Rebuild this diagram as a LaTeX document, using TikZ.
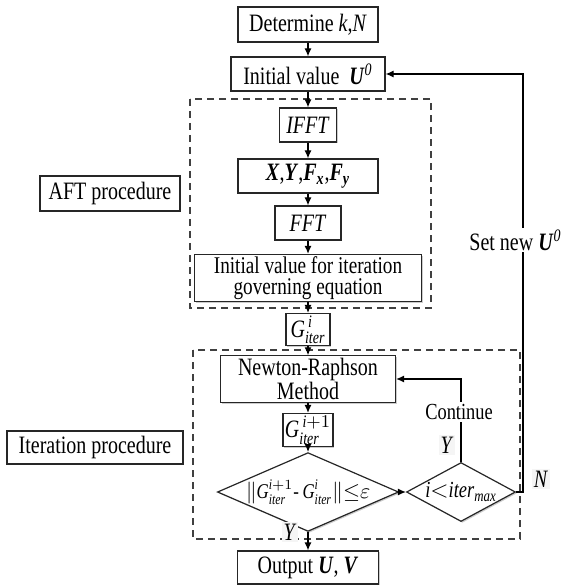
\documentclass[tikz,border=0pt]{standalone}
\usepackage{amssymb}
\usepackage{amsmath}
\usepackage{fontspec}
\setmainfont{Liberation Serif}[FakeStretch=0.8]
\usepackage{tikz}
\usetikzlibrary{shapes.geometric}
\usetikzlibrary{shadows}
\usetikzlibrary{arrows.meta}

\newcommand{\bfit}[1]{\textbf{\textit{#1}}}

\begin{document}
\begin{tikzpicture}[x=0.5pt, y=-0.5pt,
   font=\fontsize{12.5}{13}\selectfont,
   box/.style={
      draw = black!85,
      fill = white,
      line width = .6pt,
      align = center,
      inner sep = 1pt,
      drop shadow = {shadow xshift=.7pt, shadow yshift=-.7pt, fill=black!40}
   },
   decide/.style={box, diamond, inner sep=0pt},
   group/.style={draw = black!75, line width = .8pt, dash pattern = on 3.5pt off 2.5pt},
   flow/.style={draw, line width = .6pt, -{Latex[length=4pt,width=3.5pt]}},
   tag/.style={fill = black!4, inner sep = 1pt}
]
   \useasboundingbox (0,0) rectangle (565,587);

   % dashed groups
   \draw[group] (190,99) rectangle (431,308);
   \draw[group] (193,350) rectangle (520,539);

   % main column
   \node[box, minimum width=70pt, minimum height=17.5pt] (det) at (308,24.5) {Determine \textit{k},\textit{N}};
   \node[box, minimum width=77pt, minimum height=17pt] (init) at (308,74) {Initial value \ \bfit{U}$^{\textit{0}}$};
   \node[box, minimum width=28.5pt, minimum height=17pt] (ifft) at (308,125) {\textit{IFFT}};
   \node[box, minimum width=70pt, minimum height=17pt] (xyf) at (308,176)
      {\bfit{X},\bfit{Y},$\bfit{F}_{\bfit{x}}$,$\bfit{F}_{\bfit{y}}$};
   \node[box, minimum width=33pt, minimum height=17pt] (fft) at (308,223) {\textit{FFT}};
   \node[box, minimum width=113.5pt, minimum height=23pt,
      font=\fontsize{12}{10.5}\selectfont] (ivg) at (308,278)
      {Initial value for iteration\\governing equation};
   \node[box, minimum width=22pt, minimum height=13.5pt] (git) at (308,329.5)
      {$\textit{G}^{\,\textit{i}}_{\textit{iter}}$};
   \node[box, minimum width=87.5pt, minimum height=21pt,
      font=\fontsize{12.5}{10.5}\selectfont] (nr) at (308,379)
      {Newton-Raphson\\Method};
   \node[box, minimum width=22.5pt, minimum height=13pt] (gip) at (308,430)
      {$\textit{G}^{\,\textit{i}+1}_{\textit{iter}}$};
   \node[decide, aspect=2.3, minimum width=83.5pt, minimum height=36pt,
      font=\fontsize{10.5}{10.5}\selectfont] (d1) at (308,492)
      {$\|\textit{G}^{\textit{i}+1}_{\textit{iter}}\text{-}\,\textit{G}^{\textit{i}}_{\textit{iter}}\|{\le}\varepsilon$};
   \node[decide, aspect=1.85, minimum width=54.5pt, minimum height=29.5pt,
      font=\fontsize{11.5}{12}\selectfont] (d2) at (461,492)
      {\textit{i}$<$\textit{iter}$_{\textit{max}}$};
   \node[box, minimum width=70.5pt, minimum height=16.5pt] (out) at (308,567.5) {Output \bfit{U}, \bfit{V}};

   % side labels
   \node[box, minimum width=70pt, minimum height=17.5pt] (aft) at (110,193.5) {AFT procedure};
   \node[box, minimum width=88pt, minimum height=16.5pt] (itp) at (95,447.5) {Iteration procedure};

   % flow
   \draw[flow] (det) -- (init);
   \draw[flow] (init) -- (ifft);
   \draw[flow] (ifft) -- (xyf);
   \draw[flow] (xyf) -- (fft);
   \draw[flow] (fft) -- (ivg);
   \draw[flow] (ivg) -- (git);
   \draw[flow] (git) -- (nr);
   \draw[flow] (nr) -- (gip);
   \draw[flow] (gip) -- (d1);
   \draw[flow] (d1) -- (d2);
   \draw[flow] (d1) -- (out);

   % loops
   \coordinate (setnew) at (523,240);
   \draw[flow] (d2.east) -- (d2.east -| setnew) -- (setnew |- init.east) -- (init.east);
   \node[fill=white, inner sep=1pt, anchor=east] (setlbl) at (564,240) {Set new \bfit{U}$^{\textit{0}}$};
   \draw[flow] (d2.north) -- (d2.north |- nr.east) -- (nr.east);
   \node[fill=white, inner sep=1pt, font=\fontsize{11.5}{12}\selectfont] (cont) at (459,412) {Continue};

   \node[tag] (yes2) at (447,445) {\textit{Y}};
   \node[tag] (no2) at (541,479) {\textit{N}};
   \node[tag] (yes1) at (290,532) {\textit{Y}};
\end{tikzpicture}
\end{document}
